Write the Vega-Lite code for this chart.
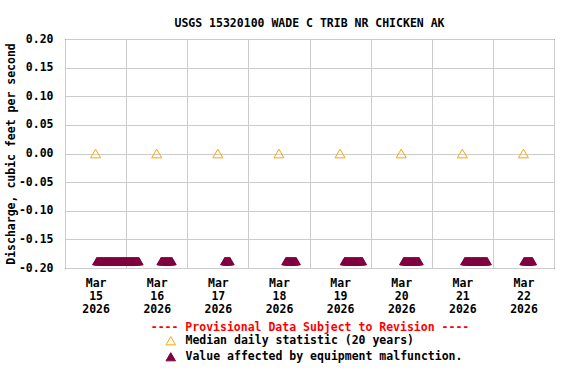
{
  "$schema": "https://vega.github.io/schema/vega-lite/v6.json",
  "autosize": {"type": "none"},
  "width": 489,
  "height": 229,
  "padding": {"left": 65, "top": 39, "right": 22, "bottom": 116},
  "background": "white",
  "config": {
    "view": {"stroke": "black", "strokeWidth": 1},
    "font": "DejaVu Sans Mono"
  },
  "title": {
    "text": "USGS 15320100 WADE C TRIB NR CHICKEN AK",
    "font": "DejaVu Sans Mono",
    "fontSize": 11.5,
    "fontWeight": "bold",
    "color": "black",
    "offset": 4,
    "anchor": "middle"
  },
  "datasets": {
    "median": [
      {"t": "2026-03-15T12:00", "v": 0},
      {"t": "2026-03-16T12:00", "v": 0},
      {"t": "2026-03-17T12:00", "v": 0},
      {"t": "2026-03-18T12:00", "v": 0},
      {"t": "2026-03-19T12:00", "v": 0},
      {"t": "2026-03-20T12:00", "v": 0},
      {"t": "2026-03-21T12:00", "v": 0},
      {"t": "2026-03-22T12:00", "v": 0}
    ],
    "malf": [
      {"t": "2026-03-15T12:30", "v": -0.188}, {"t": "2026-03-15T12:45", "v": -0.188},
      {"t": "2026-03-15T13:00", "v": -0.188}, {"t": "2026-03-15T13:15", "v": -0.188}, {"t": "2026-03-15T13:30", "v": -0.188}, {"t": "2026-03-15T13:45", "v": -0.188},
      {"t": "2026-03-15T14:00", "v": -0.188}, {"t": "2026-03-15T14:15", "v": -0.188}, {"t": "2026-03-15T14:30", "v": -0.188}, {"t": "2026-03-15T14:45", "v": -0.188},
      {"t": "2026-03-15T15:00", "v": -0.188}, {"t": "2026-03-15T15:15", "v": -0.188}, {"t": "2026-03-15T15:30", "v": -0.188}, {"t": "2026-03-15T15:45", "v": -0.188},
      {"t": "2026-03-15T16:00", "v": -0.188}, {"t": "2026-03-15T16:15", "v": -0.188}, {"t": "2026-03-15T16:30", "v": -0.188}, {"t": "2026-03-15T16:45", "v": -0.188},
      {"t": "2026-03-15T17:00", "v": -0.188}, {"t": "2026-03-15T17:15", "v": -0.188}, {"t": "2026-03-15T17:30", "v": -0.188}, {"t": "2026-03-15T17:45", "v": -0.188},
      {"t": "2026-03-15T18:00", "v": -0.188}, {"t": "2026-03-15T18:15", "v": -0.188}, {"t": "2026-03-15T18:30", "v": -0.188}, {"t": "2026-03-15T18:45", "v": -0.188},
      {"t": "2026-03-15T19:00", "v": -0.188}, {"t": "2026-03-15T19:15", "v": -0.188}, {"t": "2026-03-15T19:30", "v": -0.188}, {"t": "2026-03-15T19:45", "v": -0.188},
      {"t": "2026-03-15T20:00", "v": -0.188}, {"t": "2026-03-15T20:15", "v": -0.188}, {"t": "2026-03-15T20:30", "v": -0.188}, {"t": "2026-03-15T20:45", "v": -0.188},
      {"t": "2026-03-15T21:00", "v": -0.188}, {"t": "2026-03-15T21:15", "v": -0.188}, {"t": "2026-03-15T21:30", "v": -0.188}, {"t": "2026-03-15T21:45", "v": -0.188},
      {"t": "2026-03-15T22:00", "v": -0.188}, {"t": "2026-03-15T22:15", "v": -0.188}, {"t": "2026-03-15T22:30", "v": -0.188}, {"t": "2026-03-15T22:45", "v": -0.188},
      {"t": "2026-03-15T23:00", "v": -0.188}, {"t": "2026-03-15T23:15", "v": -0.188}, {"t": "2026-03-15T23:30", "v": -0.188}, {"t": "2026-03-15T23:45", "v": -0.188},
      {"t": "2026-03-16T00:00", "v": -0.188}, {"t": "2026-03-16T00:15", "v": -0.188}, {"t": "2026-03-16T00:30", "v": -0.188}, {"t": "2026-03-16T00:45", "v": -0.188},
      {"t": "2026-03-16T01:00", "v": -0.188}, {"t": "2026-03-16T01:15", "v": -0.188}, {"t": "2026-03-16T01:30", "v": -0.188}, {"t": "2026-03-16T01:45", "v": -0.188},
      {"t": "2026-03-16T02:00", "v": -0.188}, {"t": "2026-03-16T02:15", "v": -0.188}, {"t": "2026-03-16T02:30", "v": -0.188}, {"t": "2026-03-16T02:45", "v": -0.188},
      {"t": "2026-03-16T03:00", "v": -0.188}, {"t": "2026-03-16T03:15", "v": -0.188}, {"t": "2026-03-16T03:30", "v": -0.188}, {"t": "2026-03-16T03:45", "v": -0.188},
      {"t": "2026-03-16T04:00", "v": -0.188}, {"t": "2026-03-16T04:15", "v": -0.188}, {"t": "2026-03-16T04:30", "v": -0.188}, {"t": "2026-03-16T04:45", "v": -0.188},
      {"t": "2026-03-16T05:00", "v": -0.188},
      {"t": "2026-03-16T13:45", "v": -0.188},
      {"t": "2026-03-16T14:00", "v": -0.188}, {"t": "2026-03-16T14:15", "v": -0.188}, {"t": "2026-03-16T14:30", "v": -0.188}, {"t": "2026-03-16T14:45", "v": -0.188},
      {"t": "2026-03-16T15:00", "v": -0.188}, {"t": "2026-03-16T15:15", "v": -0.188}, {"t": "2026-03-16T15:30", "v": -0.188}, {"t": "2026-03-16T15:45", "v": -0.188},
      {"t": "2026-03-16T16:00", "v": -0.188}, {"t": "2026-03-16T16:15", "v": -0.188}, {"t": "2026-03-16T16:30", "v": -0.188}, {"t": "2026-03-16T16:45", "v": -0.188},
      {"t": "2026-03-16T17:00", "v": -0.188}, {"t": "2026-03-16T17:15", "v": -0.188}, {"t": "2026-03-16T17:30", "v": -0.188}, {"t": "2026-03-16T17:45", "v": -0.188},
      {"t": "2026-03-16T18:00", "v": -0.188},
      {"t": "2026-03-17T14:45", "v": -0.188},
      {"t": "2026-03-17T15:00", "v": -0.188}, {"t": "2026-03-17T15:15", "v": -0.188}, {"t": "2026-03-17T15:30", "v": -0.188}, {"t": "2026-03-17T15:45", "v": -0.188},
      {"t": "2026-03-17T16:00", "v": -0.188}, {"t": "2026-03-17T16:15", "v": -0.188}, {"t": "2026-03-17T16:30", "v": -0.188}, {"t": "2026-03-17T16:45", "v": -0.188},
      {"t": "2026-03-18T14:45", "v": -0.188},
      {"t": "2026-03-18T15:00", "v": -0.188}, {"t": "2026-03-18T15:15", "v": -0.188}, {"t": "2026-03-18T15:30", "v": -0.188}, {"t": "2026-03-18T15:45", "v": -0.188},
      {"t": "2026-03-18T16:00", "v": -0.188}, {"t": "2026-03-18T16:15", "v": -0.188}, {"t": "2026-03-18T16:30", "v": -0.188}, {"t": "2026-03-18T16:45", "v": -0.188},
      {"t": "2026-03-18T17:00", "v": -0.188}, {"t": "2026-03-18T17:15", "v": -0.188}, {"t": "2026-03-18T17:30", "v": -0.188}, {"t": "2026-03-18T17:45", "v": -0.188},
      {"t": "2026-03-18T18:00", "v": -0.188}, {"t": "2026-03-18T18:15", "v": -0.188}, {"t": "2026-03-18T18:30", "v": -0.188}, {"t": "2026-03-18T18:45", "v": -0.188},
      {"t": "2026-03-19T13:45", "v": -0.188},
      {"t": "2026-03-19T14:00", "v": -0.188}, {"t": "2026-03-19T14:15", "v": -0.188}, {"t": "2026-03-19T14:30", "v": -0.188}, {"t": "2026-03-19T14:45", "v": -0.188},
      {"t": "2026-03-19T15:00", "v": -0.188}, {"t": "2026-03-19T15:15", "v": -0.188}, {"t": "2026-03-19T15:30", "v": -0.188}, {"t": "2026-03-19T15:45", "v": -0.188},
      {"t": "2026-03-19T16:00", "v": -0.188}, {"t": "2026-03-19T16:15", "v": -0.188}, {"t": "2026-03-19T16:30", "v": -0.188}, {"t": "2026-03-19T16:45", "v": -0.188},
      {"t": "2026-03-19T17:00", "v": -0.188}, {"t": "2026-03-19T17:15", "v": -0.188}, {"t": "2026-03-19T17:30", "v": -0.188}, {"t": "2026-03-19T17:45", "v": -0.188},
      {"t": "2026-03-19T18:00", "v": -0.188}, {"t": "2026-03-19T18:15", "v": -0.188}, {"t": "2026-03-19T18:30", "v": -0.188}, {"t": "2026-03-19T18:45", "v": -0.188},
      {"t": "2026-03-19T19:00", "v": -0.188}, {"t": "2026-03-19T19:15", "v": -0.188}, {"t": "2026-03-19T19:30", "v": -0.188}, {"t": "2026-03-19T19:45", "v": -0.188},
      {"t": "2026-03-19T20:00", "v": -0.188}, {"t": "2026-03-19T20:15", "v": -0.188}, {"t": "2026-03-19T20:30", "v": -0.188}, {"t": "2026-03-19T20:45", "v": -0.188},
      {"t": "2026-03-20T13:00", "v": -0.188}, {"t": "2026-03-20T13:15", "v": -0.188}, {"t": "2026-03-20T13:30", "v": -0.188}, {"t": "2026-03-20T13:45", "v": -0.188},
      {"t": "2026-03-20T14:00", "v": -0.188}, {"t": "2026-03-20T14:15", "v": -0.188}, {"t": "2026-03-20T14:30", "v": -0.188}, {"t": "2026-03-20T14:45", "v": -0.188},
      {"t": "2026-03-20T15:00", "v": -0.188}, {"t": "2026-03-20T15:15", "v": -0.188}, {"t": "2026-03-20T15:30", "v": -0.188}, {"t": "2026-03-20T15:45", "v": -0.188},
      {"t": "2026-03-20T16:00", "v": -0.188}, {"t": "2026-03-20T16:15", "v": -0.188}, {"t": "2026-03-20T16:30", "v": -0.188}, {"t": "2026-03-20T16:45", "v": -0.188},
      {"t": "2026-03-20T17:00", "v": -0.188}, {"t": "2026-03-20T17:15", "v": -0.188}, {"t": "2026-03-20T17:30", "v": -0.188}, {"t": "2026-03-20T17:45", "v": -0.188},
      {"t": "2026-03-20T18:00", "v": -0.188}, {"t": "2026-03-20T18:15", "v": -0.188}, {"t": "2026-03-20T18:30", "v": -0.188}, {"t": "2026-03-20T18:45", "v": -0.188},
      {"t": "2026-03-20T19:00", "v": -0.188},
      {"t": "2026-03-21T13:00", "v": -0.188}, {"t": "2026-03-21T13:15", "v": -0.188}, {"t": "2026-03-21T13:30", "v": -0.188}, {"t": "2026-03-21T13:45", "v": -0.188},
      {"t": "2026-03-21T14:00", "v": -0.188}, {"t": "2026-03-21T14:15", "v": -0.188}, {"t": "2026-03-21T14:30", "v": -0.188}, {"t": "2026-03-21T14:45", "v": -0.188},
      {"t": "2026-03-21T15:00", "v": -0.188}, {"t": "2026-03-21T15:15", "v": -0.188}, {"t": "2026-03-21T15:30", "v": -0.188}, {"t": "2026-03-21T15:45", "v": -0.188},
      {"t": "2026-03-21T16:00", "v": -0.188}, {"t": "2026-03-21T16:15", "v": -0.188}, {"t": "2026-03-21T16:30", "v": -0.188}, {"t": "2026-03-21T16:45", "v": -0.188},
      {"t": "2026-03-21T17:00", "v": -0.188}, {"t": "2026-03-21T17:15", "v": -0.188}, {"t": "2026-03-21T17:30", "v": -0.188}, {"t": "2026-03-21T17:45", "v": -0.188},
      {"t": "2026-03-21T18:00", "v": -0.188}, {"t": "2026-03-21T18:15", "v": -0.188}, {"t": "2026-03-21T18:30", "v": -0.188}, {"t": "2026-03-21T18:45", "v": -0.188},
      {"t": "2026-03-21T19:00", "v": -0.188}, {"t": "2026-03-21T19:15", "v": -0.188}, {"t": "2026-03-21T19:30", "v": -0.188}, {"t": "2026-03-21T19:45", "v": -0.188},
      {"t": "2026-03-21T20:00", "v": -0.188}, {"t": "2026-03-21T20:15", "v": -0.188}, {"t": "2026-03-21T20:30", "v": -0.188}, {"t": "2026-03-21T20:45", "v": -0.188},
      {"t": "2026-03-21T21:00", "v": -0.188}, {"t": "2026-03-21T21:15", "v": -0.188}, {"t": "2026-03-21T21:30", "v": -0.188}, {"t": "2026-03-21T21:45", "v": -0.188},
      {"t": "2026-03-22T12:15", "v": -0.188}, {"t": "2026-03-22T12:30", "v": -0.188}, {"t": "2026-03-22T12:45", "v": -0.188},
      {"t": "2026-03-22T13:00", "v": -0.188}, {"t": "2026-03-22T13:15", "v": -0.188}, {"t": "2026-03-22T13:30", "v": -0.188}, {"t": "2026-03-22T13:45", "v": -0.188},
      {"t": "2026-03-22T14:00", "v": -0.188}, {"t": "2026-03-22T14:15", "v": -0.188}, {"t": "2026-03-22T14:30", "v": -0.188}, {"t": "2026-03-22T14:45", "v": -0.188},
      {"t": "2026-03-22T15:00", "v": -0.188}, {"t": "2026-03-22T15:15", "v": -0.188}, {"t": "2026-03-22T15:30", "v": -0.188}
    ]
  },
  "layer": [
    {
      "data": {"name": "median"},
      "mark": {"type": "point", "shape": "triangle-up", "filled": true, "size": 100, "strokeWidth": 1, "opacity": 1},
      "encoding": {
        "x": {"field": "t", "type": "temporal"},
        "y": {"field": "v", "type": "quantitative"},
        "fill": {"datum": "Median daily statistic (20 years)", "type": "nominal"},
        "stroke": {"datum": "Median daily statistic (20 years)", "type": "nominal"}
      }
    },
    {
      "data": {"name": "malf"},
      "mark": {"type": "point", "shape": "triangle-up", "filled": true, "size": 72, "strokeWidth": 1, "opacity": 1},
      "encoding": {
        "x": {"field": "t", "type": "temporal"},
        "y": {"field": "v", "type": "quantitative"},
        "fill": {"datum": "Value affected by equipment malfunction.", "type": "nominal"},
        "stroke": {"datum": "Value affected by equipment malfunction.", "type": "nominal"}
      }
    }
  ],
  "encoding": {
    "x": {
      "field": "t",
      "type": "temporal",
      "scale": {"domain": [{"year": 2026, "month": 3, "date": 15}, {"year": 2026, "month": 3, "date": 23}]},
      "axis": {
        "values": [
          {"year": 2026, "month": 3, "date": 15},
          {"year": 2026, "month": 3, "date": 16},
          {"year": 2026, "month": 3, "date": 17},
          {"year": 2026, "month": 3, "date": 18},
          {"year": 2026, "month": 3, "date": 19},
          {"year": 2026, "month": 3, "date": 20},
          {"year": 2026, "month": 3, "date": 21},
          {"year": 2026, "month": 3, "date": 22},
          {"year": 2026, "month": 3, "date": 23}
        ],
        "labelExpr": "date(datum.value) == 23 ? '' : [timeFormat(datum.value, '%b'), timeFormat(datum.value, '%d'), timeFormat(datum.value, '%Y')]",
        "labelOffset": 30.6,
        "labelAlign": "center",
        "labelBaseline": "top",
        "labelPadding": 9,
        "labelLineHeight": 13,
        "labelBound": false,
        "labelFlush": false,
        "labelOverlap": false,
        "labelFont": "DejaVu Sans Mono",
        "labelFontSize": 11.5,
        "labelFontWeight": "bold",
        "labelColor": "black",
        "ticks": false,
        "domain": false,
        "grid": true,
        "gridColor": "#cccccc",
        "gridOpacity": 1,
        "title": "---- Provisional Data Subject to Revision ----",
        "titleColor": "#ff0000",
        "titleFont": "DejaVu Sans Mono",
        "titleFontSize": 11.5,
        "titleFontWeight": "bold",
        "titlePadding": 7
      }
    },
    "y": {
      "field": "v",
      "type": "quantitative",
      "scale": {"domain": [-0.2, 0.2], "nice": false, "zero": false},
      "axis": {
        "values": [-0.2, -0.15, -0.1, -0.05, 0, 0.05, 0.1, 0.15, 0.2],
        "labelExpr": "replace(format(datum.value, '.2f'), '\u2212', '-')",
        "labelFont": "DejaVu Sans Mono",
        "labelFontSize": 11.5,
        "labelFontWeight": "bold",
        "labelColor": "black",
        "labelPadding": 12,
        "ticks": false,
        "domain": false,
        "grid": true,
        "gridColor": "#cccccc",
        "gridOpacity": 1,
        "title": "Discharge, cubic feet per second",
        "titleFont": "DejaVu Sans Mono",
        "titleFontSize": 11.5,
        "titleFontWeight": "bold",
        "titleColor": "black",
        "titlePadding": 2
      }
    },
    "fill": {
      "type": "nominal",
      "scale": {"domain": ["Median daily statistic (20 years)", "Value affected by equipment malfunction."], "range": ["transparent", "#800040"]},
      "legend": {
        "orient": "none",
        "legendX": 100,
        "legendY": 296,
        "title": null,
        "symbolSize": 90,
        "symbolType": "triangle-up",
        "symbolStrokeWidth": 1,
        "labelFont": "DejaVu Sans Mono",
        "labelFontSize": 11.5,
        "labelFontWeight": "bold",
        "labelColor": "black",
        "labelOffset": 9,
        "labelLimit": 0,
        "rowPadding": 3,
        "padding": 0
      }
    },
    "stroke": {
      "type": "nominal",
      "scale": {"domain": ["Median daily statistic (20 years)", "Value affected by equipment malfunction."], "range": ["#ffa500", "#800040"]},
      "legend": {
        "orient": "none",
        "legendX": 100,
        "legendY": 296,
        "title": null,
        "symbolSize": 90,
        "symbolType": "triangle-up",
        "symbolStrokeWidth": 1,
        "labelFont": "DejaVu Sans Mono",
        "labelFontSize": 11.5,
        "labelFontWeight": "bold",
        "labelColor": "black",
        "labelOffset": 9,
        "labelLimit": 0,
        "rowPadding": 3,
        "padding": 0
      }
    }
  }
}
